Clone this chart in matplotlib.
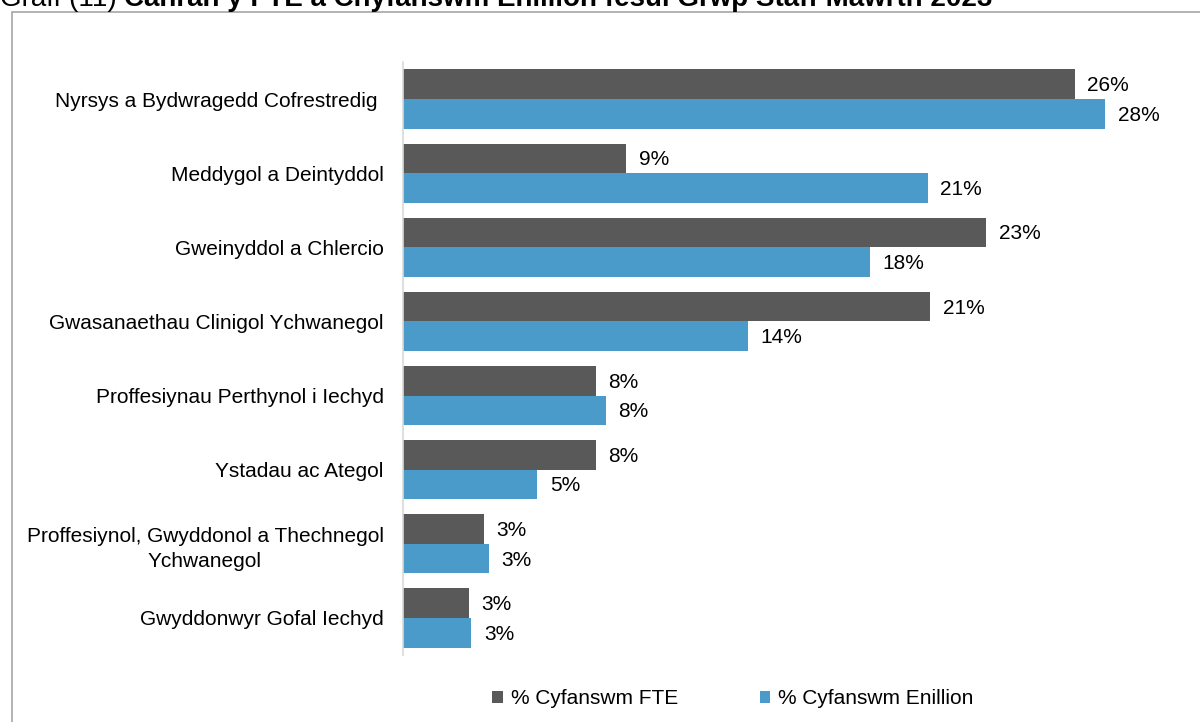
import matplotlib.pyplot as plt
from matplotlib.patches import Rectangle
import numpy as np

# chart data
categories = ['Nyrsys a Bydwragedd Cofrestredig ',
              'Meddygol a Deintyddol',
              'Gweinyddol a Chlercio',
              'Gwasanaethau Clinigol Ychwanegol',
              'Proffesiynau Perthynol i Iechyd',
              'Ystadau ac Ategol',
              'Proffesiynol, Gwyddonol a Thechnegol\nYchwanegol',
              'Gwyddonwyr Gofal Iechyd']
fte_pct = [26.5, 8.8, 23.0, 20.8, 7.6, 7.6, 3.2, 2.6]
earn_pct = [27.7, 20.7, 18.4, 13.6, 8.0, 5.3, 3.4, 2.7]
series_names = ['% Cyfanswm FTE', '% Cyfanswm Enillion']

dark = '#595959'
blue = '#4a9bca'
fs = 15

plt.rcParams['font.family'] = ['Liberation Sans', 'DejaVu Sans']

fig = plt.figure(figsize=(12, 7.22), dpi=100)
ax = fig.add_axes([0.3358, 0.0928, 0.634, 0.8213])

y = np.arange(len(categories))
h = 0.4
b1 = ax.barh(y - h / 2, fte_pct, height=h, color=dark, label=series_names[0])
b2 = ax.barh(y + h / 2, earn_pct, height=h, color=blue, label=series_names[1])

for bars, vals in ((b1, fte_pct), (b2, earn_pct)):
    for bar, v in zip(bars, vals):
        ax.annotate(f'{v:.0f}%', (v, bar.get_y() + bar.get_height() / 2),
                    xytext=(9, -1), textcoords='offset points',
                    va='center', ha='left', fontsize=fs, color='black')

ax.set_ylim(len(categories) - 0.5, -0.5)
ax.set_xlim(0, 30)
ax.set_yticks(y)
ax.set_yticklabels(categories, fontsize=fs, multialignment='center', linespacing=1.4)
ax.tick_params(axis='y', length=0, pad=14)
ax.set_xticks([])
for side in ('top', 'right', 'bottom'):
    ax.spines[side].set_visible(False)
ax.spines['left'].set_color('#d9d9d9')
ax.spines['left'].set_linewidth(1.2)

fig.legend(handles=[b1, b2], loc='center', bbox_to_anchor=(733 / 1200, 1 - 699 / 722),
           ncol=2, frameon=False, fontsize=fs, handlelength=0.5, handleheight=0.5,
           handletextpad=0.4, columnspacing=3.9)

# outer chart frame
fig.patches.append(Rectangle((12 / 1200, -0.1), 1.2, 1 - 12 / 722 + 0.1,
                             transform=fig.transFigure, fill=False,
                             edgecolor='#a6a6a6', linewidth=1.2))

# title, cut off at the top of the picture
t1 = fig.text(0, 1 - 6 / 722, 'Graff (11) ', fontsize=20, va='baseline', ha='left')
fig.canvas.draw()
x2 = t1.get_window_extent().x1 / fig.bbox.width
fig.text(x2, 1 - 6 / 722,
         'Canran y FTE a Chyfanswm Enillion fesul Grŵp Staff Mawrth 2023',
         fontsize=20, fontweight='bold', va='baseline', ha='left')

fig.savefig('out.png', dpi=100)
